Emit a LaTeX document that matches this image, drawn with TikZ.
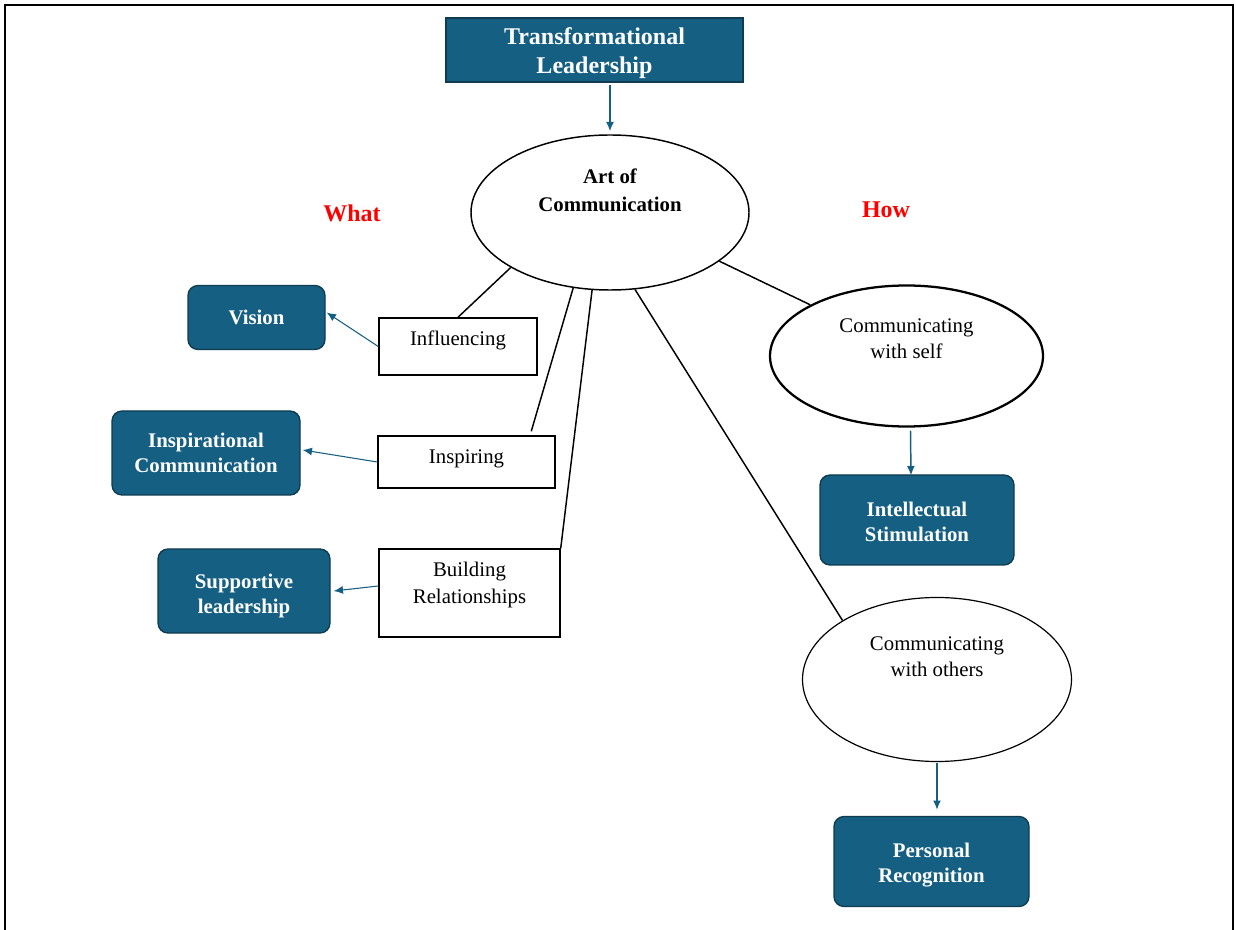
\documentclass[tikz,border=0pt]{standalone}
\usepackage{fontspec}
\setmainfont{Liberation Serif}
\usetikzlibrary{shapes.geometric,arrows.meta,calc}
\definecolor{tlblue}{HTML}{156082}
\definecolor{tledge}{HTML}{0F3A4F}
\newcommand\tparb[4]{\parbox[c][#1pt][t]{#2pt}{\centering\rule{0pt}{#3pt}#4\par}}
\begin{document}
\begin{tikzpicture}[x=0.75pt,y=-0.75pt,
  bluebox/.style={draw=tledge, line width=1pt, fill=tlblue, rounded corners=7.5pt, text=white,
    font=\fontsize{15.6pt}{18.75pt}\selectfont\bfseries, align=center, inner sep=0pt},
  whitebox/.style={draw=black, line width=1.1pt, fill=white, inner sep=0pt,
    font=\fontsize{15.6pt}{20.25pt}\selectfont},
  oval/.style={ellipse, draw=black, fill=white, inner sep=0pt, line width=1.1pt,
    font=\fontsize{15.6pt}{19.5pt}\selectfont},
  link/.style={draw=black, line width=1.1pt},
  bluearrow/.style={draw=tlblue, line width=0.8pt, -{Latex[length=7pt,width=6pt]}},
  side/.style={text=red, font=\fontsize{18pt}{20pt}\selectfont\bfseries, inner sep=0pt}
]
\useasboundingbox (0,0) rectangle (1236,930);
\draw[line width=1.5pt] (5,932) -- (5,5) -- (1233,5) -- (1233,932);

% title and hub
\node[draw=tledge, line width=1.2pt, fill=tlblue, text=white, inner sep=0pt,
  font=\fontsize{18pt}{21.75pt}\selectfont\bfseries,
  minimum width=222.75pt, minimum height=48pt] (title) at (594.5,50)
  {\tparb{48}{217.5}{20.25}{Transformational\\Leadership}};
\node[oval, minimum width=208.5pt, minimum height=116.25pt, font=\fontsize{15.6pt}{21pt}\selectfont\bfseries]
  (art) at (610,212.5) {\tparb{75}{135}{16.1}{Art of\\Communication}};

\node[side] (what) at (352,213) {What};
\node[side] (how) at (886,210) {How};

% left column (what)
\node[whitebox, minimum width=118.5pt, minimum height=42.75pt] (infl) at (458,346.5)
  {\tparb{42.75}{112.5}{21}{Influencing}};
\node[whitebox, minimum width=132.75pt, minimum height=39pt] (insp) at (466.5,462)
  {\tparb{39}{123.75}{20.25}{Inspiring}};
\node[whitebox, minimum width=135.75pt, minimum height=66pt] (build) at (469.5,593)
  {\tparb{66}{127.5}{20.25}{Building\\Relationships}};

\node[bluebox, minimum width=102.75pt, minimum height=48pt] (vision) at (256.5,317.5) {Vision};
\node[bluebox, minimum width=141pt, minimum height=63pt] (icom) at (206,453)
  {\tparb{63}{135}{27.75}{Inspirational\\Communication}};
\node[bluebox, minimum width=129pt, minimum height=63pt] (supp) at (244,591)
  {\tparb{63}{120}{29.25}{Supportive\\leadership}};

% right column (how)
\node[oval, line width=1.7pt, minimum width=204.75pt, minimum height=105.75pt] (self) at (906.5,356)
  {\tparb{67.5}{127.5}{16.5}{Communicating\\with self}};
\node[oval, line width=0.9pt, minimum width=201.75pt, minimum height=123pt] (others) at (937,679.5)
  {\tparb{75}{127.5}{15.4}{Communicating\\with others}};
\node[bluebox, minimum width=145.5pt, minimum height=67.5pt] (intel) at (917,520)
  {\tparb{67.5}{135}{30.75}{Intellectual\\Stimulation}};
\node[bluebox, minimum width=146.25pt, minimum height=67.5pt] (pers) at (931.5,861.5)
  {\tparb{67.5}{135}{30.75}{Personal\\Recognition}};

% connectors
\draw[link] (art.209.3) -- (infl.north);
\draw[link] (art.244.9) -- ($(insp.north west)+(154,-4)$);
\draw[link] (art.257.7) -- (build.north east);
\draw[link] (art.288.7) -- (others.148.6);
\draw[link] (art.336) -- (self.152.6);

\draw[bluearrow, line width=1.1pt] ($(title.south -| art.north)+(0,2)$) -- ($(art.north)+(0,-3)$);
\draw[bluearrow] (infl.west) -- ($(vision.east)+(1,-5)$);
\draw[bluearrow] (insp.west) -- ($(icom.east)+(2,-3)$);
\draw[bluearrow] ($(build.west)+(0,-7)$) -- ($(supp.east)+(3,0)$);
\draw[bluearrow, line width=1.1pt] ($(self.south)+(4,3)$) -- ($(intel.north)+(-6,1)$);
\draw[bluearrow, line width=1.1pt] ($(others.south)+(0,1)$) -- ($(others.south |- pers.north)+(0,-6)$);
\end{tikzpicture}
\end{document}
